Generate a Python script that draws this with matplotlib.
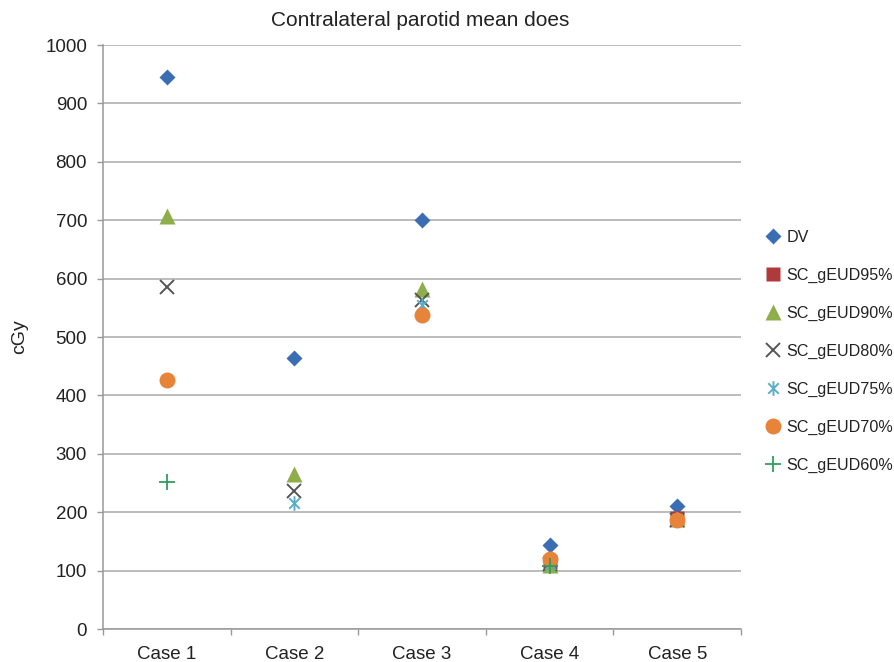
import numpy as np
import matplotlib
matplotlib.use("Agg")
import matplotlib.pyplot as plt
from matplotlib.path import Path

plt.rcParams['font.family'] = ['Liberation Sans', 'DejaVu Sans']

categories = ["Case 1", "Case 2", "Case 3", "Case 4", "Case 5"]
series_names = ["DV", "SC_gEUD95%", "SC_gEUD90%", "SC_gEUD80%",
                "SC_gEUD75%", "SC_gEUD70%", "SC_gEUD60%"]
dv      = [946, 464, 700, 144, 210]
gEUD95  = [np.nan, np.nan, np.nan, 115, 190]
gEUD90  = [707, 266, 582, 110, 188]
gEUD80  = [586, 236, 564, 112, 186]
gEUD75  = [np.nan, 215, 555, 112, 188]
gEUD70  = [427, np.nan, 538, 120, 186]
gEUD60  = [252, np.nan, np.nan, 108, np.nan]
y_ticks = [0, 100, 200, 300, 400, 500, 600, 700, 800, 900, 1000]

ast = Path([(0, -1), (0, 1), (-0.72, -0.72), (0.72, 0.72), (-0.72, 0.72), (0.72, -0.72)],
           [Path.MOVETO, Path.LINETO, Path.MOVETO, Path.LINETO, Path.MOVETO, Path.LINETO])

styles = [
    dict(marker='D', ms=8.2, color='#3A6DB3', mec='none'),
    dict(marker='s', ms=9.5, color='#B0393B', mec='none'),
    dict(marker='^', ms=12, color='#8DAE4A', mec='none'),
    dict(marker='x', ms=10, color='#555555', mew=1.4),
    dict(marker=ast, ms=10.5, color='#5AAFC6', mew=1.4),
    dict(marker='o', ms=11.5, color='#E8833A', mec='none'),
    dict(marker='+', ms=11.5, color='#2E9E5E', mew=1.3),
]
data = [dv, gEUD95, gEUD90, gEUD80, gEUD75, gEUD70, gEUD60]

fig = plt.figure(figsize=(8.95, 6.62), dpi=100)
ax = fig.add_axes([103/895, 33/662, 638/895, 584/662])

x = np.arange(1, len(categories) + 1)
for name, vals, st in zip(series_names, data, styles):
    ax.plot(x, vals, linestyle='none', label=name, **st)

ax.set_xlim(0.5, len(categories) + 0.5)
ax.set_ylim(0, 1000)
ax.set_yticks(y_ticks)
ax.set_xticks(x)
ax.set_xticklabels(categories)
ax.set_xticks(np.arange(0.5, len(categories) + 1, 1), minor=True)
ax.tick_params(axis='x', which='major', length=0, pad=12, labelsize=13.5, colors='#222222')
ax.tick_params(axis='x', which='minor', length=4.5, width=1, color='#999999', direction='out')
ax.tick_params(axis='y', length=4.5, width=1, color='#999999', pad=7, labelsize=13.5, labelcolor='#222222')
ax.grid(axis='y', color='#AAAAAA', linewidth=1.1)
ax.set_axisbelow(True)
for s in ['top', 'right']:
    ax.spines[s].set_visible(False)
for s in ['left', 'bottom']:
    ax.spines[s].set_color('#999999')
    ax.spines[s].set_linewidth(1.1)

ax.set_ylabel('cGy', fontsize=14, color='#222222', labelpad=12)
fig.text(420.5/895, 1 - 20/662, 'Contralateral parotid mean does', ha='center', va='center',
         fontsize=15, color='#222222')

leg = ax.legend(loc='upper left', bbox_to_anchor=(765/895, 1 - 230/662), bbox_transform=fig.transFigure,
                frameon=False, fontsize=11.6, labelspacing=1.42, handletextpad=0.35,
                handlelength=1.0, borderaxespad=0, borderpad=0)
for t in leg.get_texts():
    t.set_color('#222222')

fig.savefig('out.png', dpi=100)
